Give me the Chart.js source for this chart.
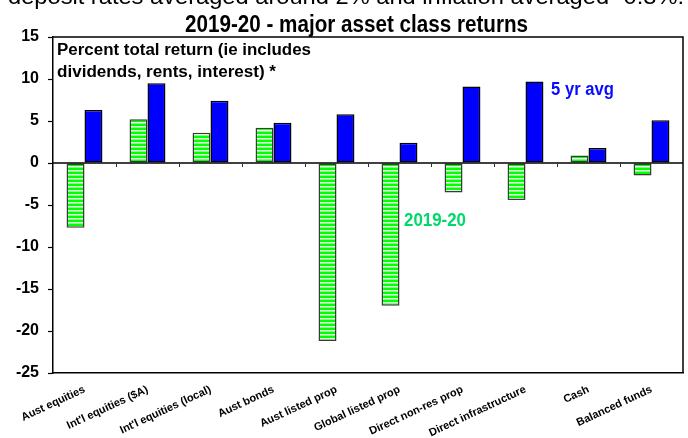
<!DOCTYPE html>
<html>
<head>
<meta charset="utf-8">
<script src="https://cdn.jsdelivr.net/npm/chart.js@4.4.1/dist/chart.umd.min.js"></script>
<style>
  html, body { margin: 0; padding: 0; background: #ffffff; }
  #wrap { width: 688px; height: 438px; }
</style>
</head>
<body>
<div id="wrap"><canvas id="c" width="688" height="438"></canvas></div>
<script>
// ---- Data ----
const categories = [
  "Aust equities", "Int'l equities ($A)", "Int'l equities (local)", "Aust bonds",
  "Aust listed prop", "Global listed prop", "Direct non-res prop",
  "Direct infrastructure", "Cash", "Balanced funds"
];
const returns201920 = [-7.7, 5.2, 3.6, 4.2, -21.2, -17.0, -3.5, -4.4, 0.9, -1.5];
const fiveYearAvg   = [6.3, 9.5, 7.4, 4.8, 5.8, 2.4, 9.1, 9.7, 1.8, 5.1];
const yTickValues   = [-25, -20, -15, -10, -5, 0, 5, 10, 15];
const seriesNames   = ["2019-20", "5 yr avg"];
const titleText     = "2019-20 - major asset class returns";
const noteLines     = ["Percent total return (ie includes", "dividends, rents, interest) *"];
const topCutText    = "deposit rates averaged around 2% and inflation averaged -0.3%.";

// ---- Striped fill for 2019-20 bars ----
function makeStripes() {
  const c = document.createElement('canvas');
  c.width = 4; c.height = 4;
  const g = c.getContext('2d');
  const rows = ['#00ff00', '#00ff00', '#e6ffe6', '#7dff7d'];
  rows.forEach((col, i) => { g.fillStyle = col; g.fillRect(0, i, 4, 1); });
  return document.getElementById('c').getContext('2d').createPattern(c, 'repeat');
}

const FONT = '"Liberation Sans", Arial, sans-serif';

function fitText(ctx, text, x, baseline, font, color, width) {
  ctx.save();
  ctx.font = font;
  ctx.fillStyle = color;
  ctx.textAlign = 'left';
  ctx.textBaseline = 'alphabetic';
  const w = ctx.measureText(text).width;
  ctx.translate(x, baseline);
  ctx.scale(width / w, 1);
  ctx.fillText(text, 0, 0);
  ctx.restore();
}

const decor = {
  id: 'decor',
  beforeDraw(chart) {
    const ctx = chart.ctx;
    ctx.save();
    ctx.fillStyle = '#ffffff';
    ctx.fillRect(0, 0, chart.width, chart.height);
    ctx.restore();
  },
  afterDatasetsDraw(chart) {
    const ctx = chart.ctx;
    const a = chart.chartArea;
    const xs = chart.scales.x, ys = chart.scales.y;
    const y0 = ys.getPixelForValue(0);
    ctx.save();
    ctx.strokeStyle = '#000000';
    ctx.lineWidth = 1.5;
    // zero line
    ctx.beginPath();
    ctx.moveTo(a.left, y0); ctx.lineTo(a.right, y0);
    ctx.stroke();
    // category boundary ticks on the zero line
    ctx.lineWidth = 1;
    ctx.strokeStyle = '#333333';
    for (let i = 1; i < categories.length; i++) {
      const x = Math.round((xs.getPixelForValue(i - 1) + xs.getPixelForValue(i)) / 2) + 0.5;
      ctx.beginPath();
      ctx.moveTo(x, y0); ctx.lineTo(x, y0 + 4);
      ctx.stroke();
    }
    // top and right border of plot
    ctx.lineWidth = 1.5;
    ctx.strokeStyle = '#000000';
    ctx.beginPath();
    ctx.moveTo(a.left, a.top); ctx.lineTo(a.right, a.top); ctx.lineTo(a.right, a.bottom);
    ctx.stroke();
    ctx.restore();

    // texts
    fitText(ctx, topCutText, 8, 4, '22px ' + FONT, '#000000', 676);
    fitText(ctx, titleText, 185, 31.5, 'bold 23px ' + FONT, '#000000', 343);
    fitText(ctx, noteLines[0], 57, 55, 'bold 16px ' + FONT, '#000000', 254);
    fitText(ctx, noteLines[1], 57, 77, 'bold 16px ' + FONT, '#000000', 219);
    fitText(ctx, seriesNames[1], 551, 95, 'bold 18px ' + FONT, '#0a0aff', 63);
    fitText(ctx, seriesNames[0], 404, 226, 'bold 18px ' + FONT, '#00d86a', 62);
  }
};

new Chart(document.getElementById('c'), {
  type: 'bar',
  data: {
    labels: categories,
    datasets: [
      {
        label: seriesNames[0],
        data: returns201920,
        backgroundColor: makeStripes(),
        borderColor: '#3a3a3a',
        borderWidth: 1.5,
        borderSkipped: false,
        categoryPercentage: 0.57,
        barPercentage: 1.0
      },
      {
        label: seriesNames[1],
        data: fiveYearAvg,
        backgroundColor: '#0000ff',
        borderColor: '#000000',
        borderWidth: 1.5,
        borderSkipped: false,
        categoryPercentage: 0.57,
        barPercentage: 1.0
      }
    ]
  },
  options: {
    responsive: false,
    animation: false,
    devicePixelRatio: 1,
    layout: { padding: { left: 0, right: 5, top: 37, bottom: 0 } },
    plugins: { legend: { display: false }, title: { display: false }, tooltip: { enabled: false } },
    scales: {
      x: {
        type: 'category',
        offset: true,
        grid: { display: false, drawTicks: false },
        border: { display: true, color: '#000000', width: 1.5 },
        ticks: {
          autoSkip: false,
          maxRotation: 25,
          minRotation: 25,
          padding: 10,
          color: '#000000',
          font: { family: FONT, size: 11, weight: 'bold' }
        },
        afterFit(scale) { scale.height = 65; }
      },
      y: {
        min: -25,
        max: 15,
        afterBuildTicks(scale) { scale.ticks = yTickValues.map(v => ({ value: v })); },
        grid: { drawOnChartArea: false, drawTicks: true, tickLength: 5, color: '#000000', tickWidth: 1.2 },
        border: { display: true, color: '#000000', width: 1.5 },
        ticks: {
          padding: 9,
          color: '#000000',
          font: { family: FONT, size: 16, weight: 'bold' }
        },
        afterFit(scale) { scale.width = 53; }
      }
    }
  },
  plugins: [decor]
});
</script>
</body>
</html>
